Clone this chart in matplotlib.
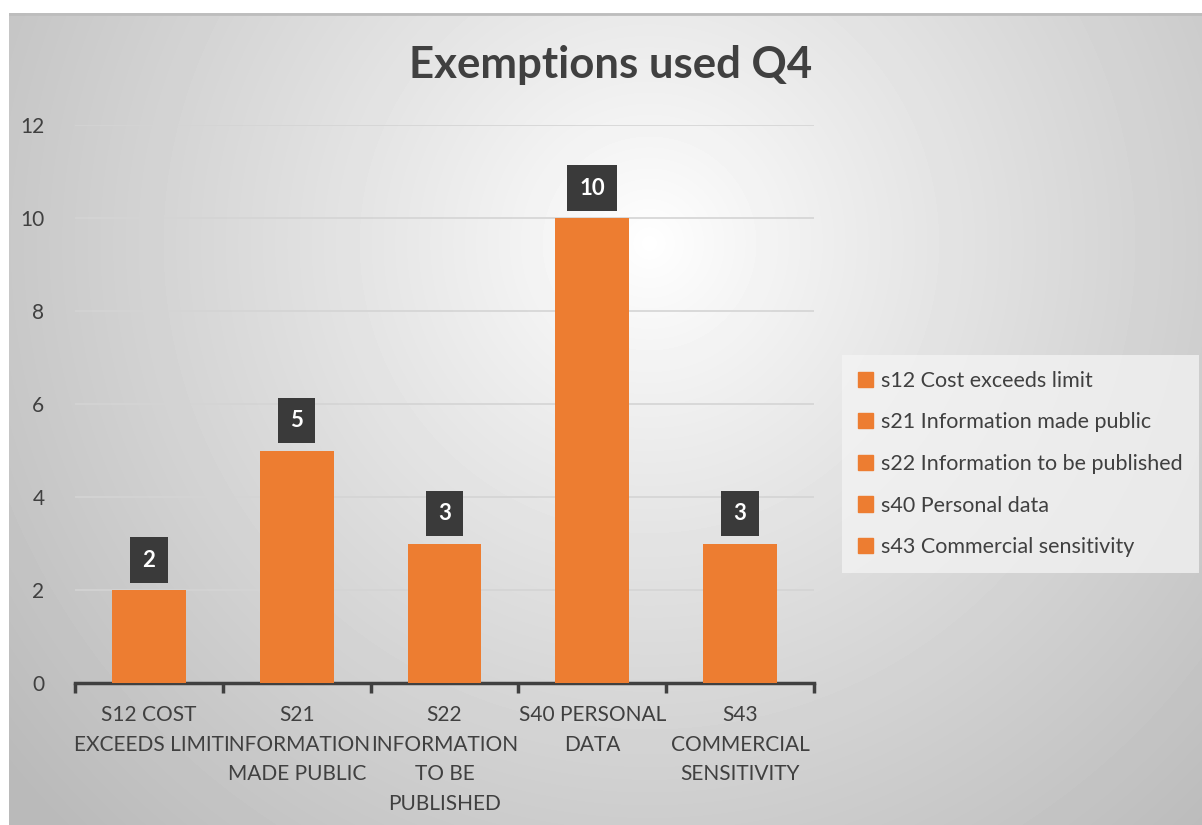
import numpy as np
import matplotlib
matplotlib.use('Agg')
import matplotlib.pyplot as plt
from matplotlib.patches import Rectangle

plt.rcParams['font.family'] = ['Lato', 'DejaVu Sans']

# data
categories = ['S12 COST\nEXCEEDS LIMIT', 'S21\nINFORMATION\nMADE PUBLIC',
              'S22\nINFORMATION\nTO BE\nPUBLISHED', 'S40 PERSONAL\nDATA',
              'S43\nCOMMERCIAL\nSENSITIVITY']
legend_labels = ['s12 Cost exceeds limit', 's21 Information made public',
                 's22 Information to be published', 's40 Personal data',
                 's43 Commercial sensitivity']
values = [2, 5, 3, 10, 3]
y_ticks = [0, 2, 4, 6, 8, 10, 12]

orange = '#ED7D31'
text_col = '#404040'

W, H = 1202, 825
fig = plt.figure(figsize=(W / 100, H / 100), dpi=100)
fig.patch.set_facecolor('white')

# radial gradient background
bg = fig.add_axes([9 / W, 0, 1 - 9 / W, 1 - 13 / H], zorder=-10)
yy, xx = np.mgrid[0:812, 0:1193]
cx, cy = 640, 230
r = np.sqrt((xx - cx) ** 2 + (yy - cy) ** 2)
r = r / r.max()
shade = 1.0 - 0.27 * np.clip(r * 1.05, 0, 1) ** 0.9
bg.imshow(shade, cmap='gray', vmin=0, vmax=1, aspect='auto', interpolation='bilinear')
bg.axhline(0.5, color='#bdbdbd', lw=2)
bg.set_axis_off()

ax = fig.add_axes([75 / W, 1 - 683 / H, (814 - 75) / W, (683 - 125) / H])
ax.patch.set_alpha(0)
x = np.arange(len(values))
bars = ax.bar(x, values, width=0.5, color=orange, zorder=3)
ax.set_xlim(-0.5, len(values) - 0.5)
ax.set_ylim(0, 12)
ax.set_yticks(y_ticks)
ax.yaxis.grid(True, color='#d4d4d4', lw=1.2, zorder=0)
for s in ['top', 'right', 'left']:
    ax.spines[s].set_visible(False)
ax.spines['bottom'].set_color(text_col)
ax.spines['bottom'].set_linewidth(2.5)
ax.tick_params(axis='y', length=0, labelsize=15, labelcolor=text_col, pad=22)
ax.set_xticks(x)
ax.set_xticklabels(categories, fontsize=15, color=text_col, linespacing=1.6)
ax.tick_params(axis='x', length=0, pad=16)
ax.set_xticks(np.arange(len(values) + 1) - 0.5, minor=True)
ax.tick_params(axis='x', which='minor', length=7, width=2.5, color=text_col)

for b, v in zip(bars, values):
    ax.annotate(str(v), (b.get_x() + b.get_width() / 2, v), xytext=(0, 21.5),
                textcoords='offset points', ha='center', va='center',
                fontsize=16, fontweight='bold', color='white', zorder=5,
                bbox=dict(boxstyle='square,pad=0.55', fc='#3a3a3a', ec='none'))

fig.text(0.508, 0.921, 'Exemptions used Q4', ha='center', va='center',
         fontsize=31.5, fontweight='bold', color=text_col)

# legend
handles = [Rectangle((0, 0), 1, 1, color=orange) for _ in legend_labels]
leg = fig.legend(handles, legend_labels, loc='center left',
                 bbox_to_anchor=(842 / W, 1 - 464 / H), fontsize=15.5,
                 frameon=True, handlelength=0.7, handleheight=0.7,
                 handletextpad=0.35, labelspacing=1.0, borderpad=0.75,
                 borderaxespad=0, fancybox=False)
leg.get_frame().set_facecolor('#f4f4f4')
leg.get_frame().set_alpha(0.75)
leg.get_frame().set_edgecolor('none')
for t in leg.get_texts():
    t.set_color(text_col)

fig.savefig('out.png', dpi=100)
